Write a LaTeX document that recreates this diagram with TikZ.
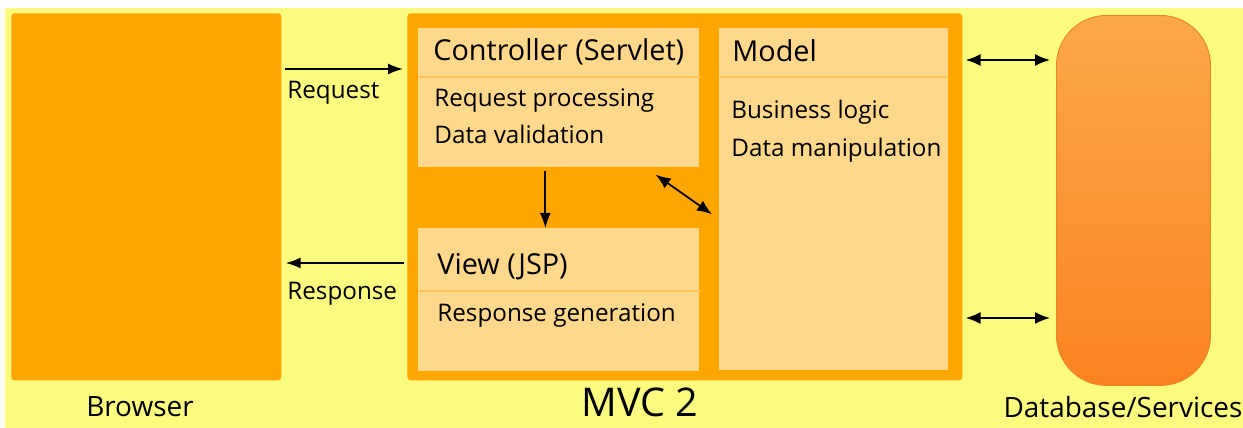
\documentclass[tikz,border=0pt]{standalone}
\usepackage{fontspec}
\setmainfont{Open Sans}
\usetikzlibrary{arrows.meta,positioning}
\definecolor{bgyellow}{HTML}{FBFB80}
\definecolor{mvcorange}{HTML}{FFA600}
\definecolor{boxlight}{HTML}{FFD88C}
\definecolor{sepline}{HTML}{FFC451}
\definecolor{dbtop}{HTML}{FBA84A}
\definecolor{dbbottom}{HTML}{FB8320}
\definecolor{dbline}{HTML}{E8862A}
\tikzset{
	block/.style={fill=#1, anchor=north west, inner sep=0pt, rounded corners=0.06cm},
	part/.style={fill=boxlight, anchor=north west, inner sep=0pt},
	head/.style={anchor=base west, inner sep=0pt, font=\fontsize{16.4}{18}\selectfont},
	txt/.style={anchor=base west, inner sep=0pt, font=\fontsize{13.8}{16}\selectfont},
	lbl/.style={anchor=base, inner sep=0pt, font=\fontsize{15.9}{18}\selectfont},
	arr/.style={-{Latex[length=0.3cm,width=0.22cm]}, line width=0.035cm},
	dblarr/.style={{Latex[length=0.3cm,width=0.24cm]}-{Latex[length=0.3cm,width=0.24cm]}, line width=0.035cm}
}

\begin{document}
\begin{tikzpicture}[x=0.02cm, y=-0.02cm]
			%%%%% START %%%%%
			
			\useasboundingbox (0, 0) rectangle (1243, 428);
			\fill[bgyellow] (5, 8) rectangle (1243, 428);
			
			% browser and mvc frame
			\node[block=mvcorange, minimum width=5.4cm, minimum height=7.34cm] (browser) at (11, 13) {};
			\node[block=mvcorange, minimum width=11.1cm, minimum height=7.34cm] (mvc) at (407, 13) {};
			
			% controller
			\node[part, minimum width=5.62cm, minimum height=2.78cm] (ctrl) at (418, 28) {};
			\draw[sepline, line width=0.05cm] (ctrl.west |- 0, 77) -- (ctrl.east |- 0, 77);
			\node[head] (ctrlhead) at (433, 61) {Controller (Servlet)};
			\node[txt] (ctrlone) at (434, 107) {Request processing};
			\node[txt] (ctrltwo) at (434, 144) {Data validation};
			
			% model
			\node[part, minimum width=4.58cm, minimum height=6.84cm] (model) at (719, 28) {};
			\draw[sepline, line width=0.05cm] (model.west |- 0, 77) -- (model.east |- 0, 77);
			\node[head] (modelhead) at (732, 62) {Model};
			\node[txt] (modelone) at (731, 119) {Business logic};
			\node[txt] (modeltwo) at (731, 157) {Data manipulation};
			
			% view
			\node[part, minimum width=5.62cm, minimum height=2.86cm] (view) at (418, 228) {};
			\draw[sepline, line width=0.05cm] (view.west |- 0, 291) -- (view.east |- 0, 291);
			\node[head] (viewhead) at (437, 275) {View (JSP)};
			\node[txt] (viewone) at (437, 322) {Response generation};
			
			% database
			\node[anchor=north west, inner sep=0pt, minimum width=3.08cm, minimum height=7.4cm, rounded corners=1cm,
				draw=dbline, line width=0.02cm, top color=dbtop, bottom color=dbbottom] (db) at (1056, 15) {};
			
			% connectors
			\coordinate (reqy) at (0, 69);
			\coordinate (resy) at (0, 263);
			\coordinate (dbupy) at (0, 60);
			\coordinate (dblowy) at (0, 318);
			\draw[arr, shorten <=0.06cm, shorten >=0.08cm] (browser.east |- reqy) -- (mvc.west |- reqy);
			\draw[arr, shorten <=0.06cm, shorten >=0.08cm] (mvc.west |- resy) -- (browser.east |- resy);
			\draw[arr, shorten <=0.06cm] ([xshift=-0.27cm]ctrl.south) -- ([xshift=-0.27cm]ctrl.south |- view.north);
			\draw[dblarr] ([xshift=-0.88cm, yshift=-0.14cm]ctrl.south east) -- ([xshift=-0.14cm, yshift=-0.3cm]model.west);
			\draw[dblarr, shorten <=0.06cm, shorten >=0.12cm] (mvc.east |- dbupy) -- (db.west |- dbupy);
			\draw[dblarr, shorten <=0.06cm, shorten >=0.12cm] (mvc.east |- dblowy) -- (db.west |- dblowy);
			
			% labels
			\node[txt] (reqlbl) at (287, 99) {Request};
			\node[txt] (reslbl) at (287, 300) {Response};
			\node[lbl] (browserlbl) at (140, 417) {Browser};
			\node[anchor=base, inner sep=0pt, font=\fontsize{22.5}{26}\selectfont] (mvclbl) at (640, 417) {MVC 2};
			\node[lbl] (dblbl) at (1123, 418) {Database/Services};
			
			%%%%% END %%%%%
\end{tikzpicture}
\end{document}
